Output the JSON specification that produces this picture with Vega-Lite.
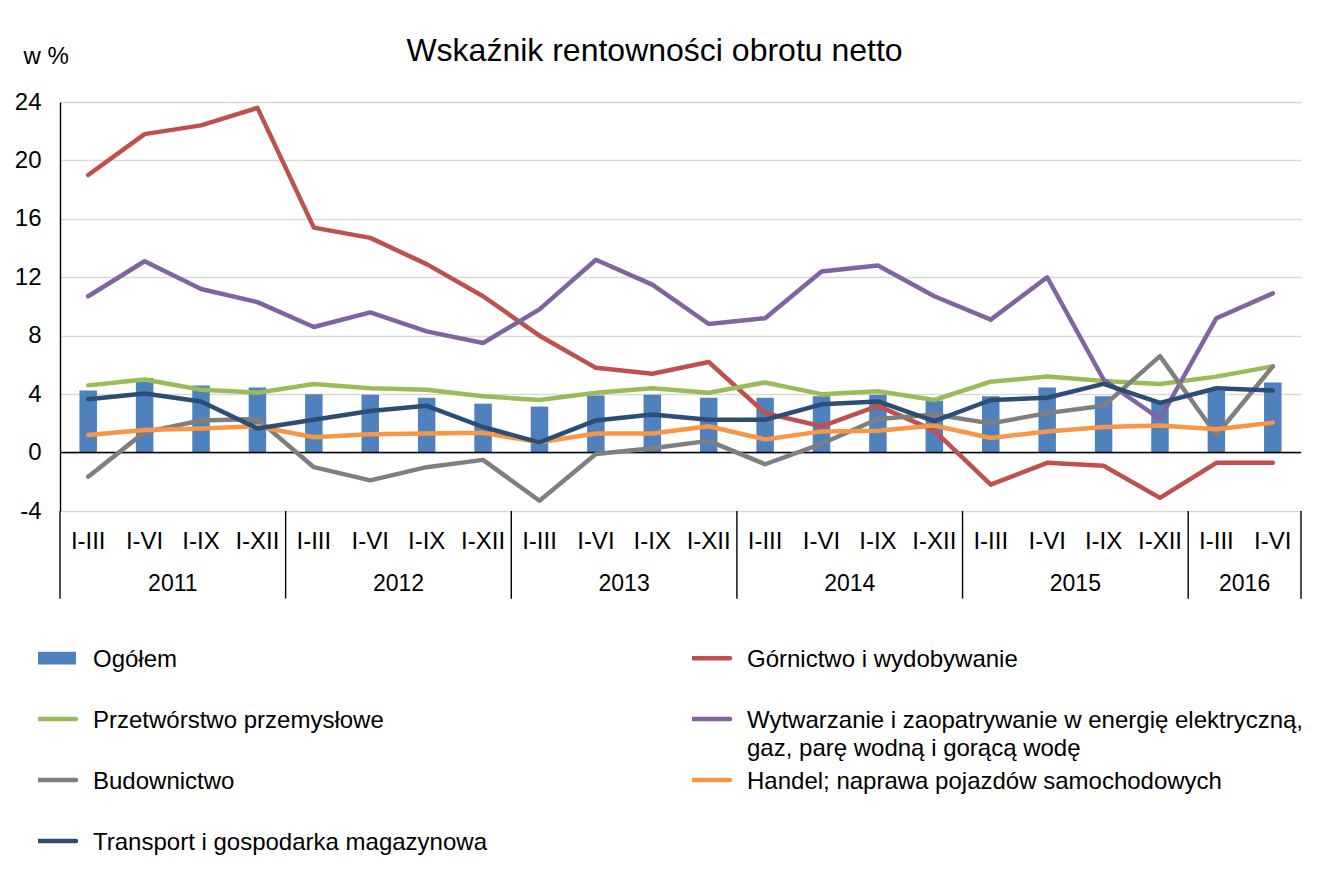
{
  "$schema": "https://vega.github.io/schema/vega-lite/v6.json",
  "width": 1241,
  "height": 409,
  "autosize": {"type": "none"},
  "padding": {"left": 60, "top": 102, "right": 25, "bottom": 370},
  "background": "white",
  "config": {
    "view": {"stroke": null},
    "font": "Liberation Sans",
    "text": {"font": "Liberation Sans"}
  },
  "title": {
    "text": "Wskaźnik rentowności obrotu netto",
    "font": "Liberation Sans",
    "fontSize": 32,
    "fontWeight": "normal",
    "color": "#000000",
    "anchor": "middle",
    "dx": -26,
    "offset": -49,
    "baseline": "alphabetic"
  },
  "datasets": {
    "main": [
      {"p": "2011 I-III", "s": "Ogółem", "v": 4.25},
      {"p": "2011 I-VI", "s": "Ogółem", "v": 5.1},
      {"p": "2011 I-IX", "s": "Ogółem", "v": 4.6},
      {"p": "2011 I-XII", "s": "Ogółem", "v": 4.45},
      {"p": "2012 I-III", "s": "Ogółem", "v": 4.0},
      {"p": "2012 I-VI", "s": "Ogółem", "v": 3.95},
      {"p": "2012 I-IX", "s": "Ogółem", "v": 3.75},
      {"p": "2012 I-XII", "s": "Ogółem", "v": 3.35},
      {"p": "2013 I-III", "s": "Ogółem", "v": 3.15},
      {"p": "2013 I-VI", "s": "Ogółem", "v": 3.9},
      {"p": "2013 I-IX", "s": "Ogółem", "v": 3.95},
      {"p": "2013 I-XII", "s": "Ogółem", "v": 3.75},
      {"p": "2014 I-III", "s": "Ogółem", "v": 3.75},
      {"p": "2014 I-VI", "s": "Ogółem", "v": 3.85},
      {"p": "2014 I-IX", "s": "Ogółem", "v": 3.95},
      {"p": "2014 I-XII", "s": "Ogółem", "v": 3.55},
      {"p": "2015 I-III", "s": "Ogółem", "v": 3.85},
      {"p": "2015 I-VI", "s": "Ogółem", "v": 4.45},
      {"p": "2015 I-IX", "s": "Ogółem", "v": 3.85},
      {"p": "2015 I-XII", "s": "Ogółem", "v": 3.5},
      {"p": "2016 I-III", "s": "Ogółem", "v": 4.25},
      {"p": "2016 I-VI", "s": "Ogółem", "v": 4.8},

      {"p": "2011 I-III", "s": "Górnictwo i wydobywanie", "v": 19.0},
      {"p": "2011 I-VI", "s": "Górnictwo i wydobywanie", "v": 21.8},
      {"p": "2011 I-IX", "s": "Górnictwo i wydobywanie", "v": 22.4},
      {"p": "2011 I-XII", "s": "Górnictwo i wydobywanie", "v": 23.6},
      {"p": "2012 I-III", "s": "Górnictwo i wydobywanie", "v": 15.4},
      {"p": "2012 I-VI", "s": "Górnictwo i wydobywanie", "v": 14.7},
      {"p": "2012 I-IX", "s": "Górnictwo i wydobywanie", "v": 12.9},
      {"p": "2012 I-XII", "s": "Górnictwo i wydobywanie", "v": 10.7},
      {"p": "2013 I-III", "s": "Górnictwo i wydobywanie", "v": 8.0},
      {"p": "2013 I-VI", "s": "Górnictwo i wydobywanie", "v": 5.8},
      {"p": "2013 I-IX", "s": "Górnictwo i wydobywanie", "v": 5.4},
      {"p": "2013 I-XII", "s": "Górnictwo i wydobywanie", "v": 6.2},
      {"p": "2014 I-III", "s": "Górnictwo i wydobywanie", "v": 2.7},
      {"p": "2014 I-VI", "s": "Górnictwo i wydobywanie", "v": 1.8},
      {"p": "2014 I-IX", "s": "Górnictwo i wydobywanie", "v": 3.2},
      {"p": "2014 I-XII", "s": "Górnictwo i wydobywanie", "v": 1.5},
      {"p": "2015 I-III", "s": "Górnictwo i wydobywanie", "v": -2.2},
      {"p": "2015 I-VI", "s": "Górnictwo i wydobywanie", "v": -0.7},
      {"p": "2015 I-IX", "s": "Górnictwo i wydobywanie", "v": -0.9},
      {"p": "2015 I-XII", "s": "Górnictwo i wydobywanie", "v": -3.1},
      {"p": "2016 I-III", "s": "Górnictwo i wydobywanie", "v": -0.7},
      {"p": "2016 I-VI", "s": "Górnictwo i wydobywanie", "v": -0.7},

      {"p": "2011 I-III", "s": "Przetwórstwo przemysłowe", "v": 4.6},
      {"p": "2011 I-VI", "s": "Przetwórstwo przemysłowe", "v": 5.0},
      {"p": "2011 I-IX", "s": "Przetwórstwo przemysłowe", "v": 4.3},
      {"p": "2011 I-XII", "s": "Przetwórstwo przemysłowe", "v": 4.1},
      {"p": "2012 I-III", "s": "Przetwórstwo przemysłowe", "v": 4.7},
      {"p": "2012 I-VI", "s": "Przetwórstwo przemysłowe", "v": 4.4},
      {"p": "2012 I-IX", "s": "Przetwórstwo przemysłowe", "v": 4.3},
      {"p": "2012 I-XII", "s": "Przetwórstwo przemysłowe", "v": 3.85},
      {"p": "2013 I-III", "s": "Przetwórstwo przemysłowe", "v": 3.6},
      {"p": "2013 I-VI", "s": "Przetwórstwo przemysłowe", "v": 4.1},
      {"p": "2013 I-IX", "s": "Przetwórstwo przemysłowe", "v": 4.4},
      {"p": "2013 I-XII", "s": "Przetwórstwo przemysłowe", "v": 4.1},
      {"p": "2014 I-III", "s": "Przetwórstwo przemysłowe", "v": 4.8},
      {"p": "2014 I-VI", "s": "Przetwórstwo przemysłowe", "v": 4.0},
      {"p": "2014 I-IX", "s": "Przetwórstwo przemysłowe", "v": 4.2},
      {"p": "2014 I-XII", "s": "Przetwórstwo przemysłowe", "v": 3.6},
      {"p": "2015 I-III", "s": "Przetwórstwo przemysłowe", "v": 4.85},
      {"p": "2015 I-VI", "s": "Przetwórstwo przemysłowe", "v": 5.2},
      {"p": "2015 I-IX", "s": "Przetwórstwo przemysłowe", "v": 4.9},
      {"p": "2015 I-XII", "s": "Przetwórstwo przemysłowe", "v": 4.7},
      {"p": "2016 I-III", "s": "Przetwórstwo przemysłowe", "v": 5.2},
      {"p": "2016 I-VI", "s": "Przetwórstwo przemysłowe", "v": 5.9},

      {"p": "2011 I-III", "s": "Wytwarzanie i zaopatrywanie w energię elektryczną, gaz, parę wodną i gorącą wodę", "v": 10.7},
      {"p": "2011 I-VI", "s": "Wytwarzanie i zaopatrywanie w energię elektryczną, gaz, parę wodną i gorącą wodę", "v": 13.1},
      {"p": "2011 I-IX", "s": "Wytwarzanie i zaopatrywanie w energię elektryczną, gaz, parę wodną i gorącą wodę", "v": 11.2},
      {"p": "2011 I-XII", "s": "Wytwarzanie i zaopatrywanie w energię elektryczną, gaz, parę wodną i gorącą wodę", "v": 10.3},
      {"p": "2012 I-III", "s": "Wytwarzanie i zaopatrywanie w energię elektryczną, gaz, parę wodną i gorącą wodę", "v": 8.6},
      {"p": "2012 I-VI", "s": "Wytwarzanie i zaopatrywanie w energię elektryczną, gaz, parę wodną i gorącą wodę", "v": 9.6},
      {"p": "2012 I-IX", "s": "Wytwarzanie i zaopatrywanie w energię elektryczną, gaz, parę wodną i gorącą wodę", "v": 8.3},
      {"p": "2012 I-XII", "s": "Wytwarzanie i zaopatrywanie w energię elektryczną, gaz, parę wodną i gorącą wodę", "v": 7.5},
      {"p": "2013 I-III", "s": "Wytwarzanie i zaopatrywanie w energię elektryczną, gaz, parę wodną i gorącą wodę", "v": 9.8},
      {"p": "2013 I-VI", "s": "Wytwarzanie i zaopatrywanie w energię elektryczną, gaz, parę wodną i gorącą wodę", "v": 13.2},
      {"p": "2013 I-IX", "s": "Wytwarzanie i zaopatrywanie w energię elektryczną, gaz, parę wodną i gorącą wodę", "v": 11.5},
      {"p": "2013 I-XII", "s": "Wytwarzanie i zaopatrywanie w energię elektryczną, gaz, parę wodną i gorącą wodę", "v": 8.8},
      {"p": "2014 I-III", "s": "Wytwarzanie i zaopatrywanie w energię elektryczną, gaz, parę wodną i gorącą wodę", "v": 9.2},
      {"p": "2014 I-VI", "s": "Wytwarzanie i zaopatrywanie w energię elektryczną, gaz, parę wodną i gorącą wodę", "v": 12.4},
      {"p": "2014 I-IX", "s": "Wytwarzanie i zaopatrywanie w energię elektryczną, gaz, parę wodną i gorącą wodę", "v": 12.8},
      {"p": "2014 I-XII", "s": "Wytwarzanie i zaopatrywanie w energię elektryczną, gaz, parę wodną i gorącą wodę", "v": 10.7},
      {"p": "2015 I-III", "s": "Wytwarzanie i zaopatrywanie w energię elektryczną, gaz, parę wodną i gorącą wodę", "v": 9.1},
      {"p": "2015 I-VI", "s": "Wytwarzanie i zaopatrywanie w energię elektryczną, gaz, parę wodną i gorącą wodę", "v": 12.0},
      {"p": "2015 I-IX", "s": "Wytwarzanie i zaopatrywanie w energię elektryczną, gaz, parę wodną i gorącą wodę", "v": 5.0},
      {"p": "2015 I-XII", "s": "Wytwarzanie i zaopatrywanie w energię elektryczną, gaz, parę wodną i gorącą wodę", "v": 2.3},
      {"p": "2016 I-III", "s": "Wytwarzanie i zaopatrywanie w energię elektryczną, gaz, parę wodną i gorącą wodę", "v": 9.2},
      {"p": "2016 I-VI", "s": "Wytwarzanie i zaopatrywanie w energię elektryczną, gaz, parę wodną i gorącą wodę", "v": 10.9},

      {"p": "2011 I-III", "s": "Budownictwo", "v": -1.65},
      {"p": "2011 I-VI", "s": "Budownictwo", "v": 1.4},
      {"p": "2011 I-IX", "s": "Budownictwo", "v": 2.2},
      {"p": "2011 I-XII", "s": "Budownictwo", "v": 2.3},
      {"p": "2012 I-III", "s": "Budownictwo", "v": -1.0},
      {"p": "2012 I-VI", "s": "Budownictwo", "v": -1.9},
      {"p": "2012 I-IX", "s": "Budownictwo", "v": -1.0},
      {"p": "2012 I-XII", "s": "Budownictwo", "v": -0.5},
      {"p": "2013 I-III", "s": "Budownictwo", "v": -3.3},
      {"p": "2013 I-VI", "s": "Budownictwo", "v": -0.1},
      {"p": "2013 I-IX", "s": "Budownictwo", "v": 0.3},
      {"p": "2013 I-XII", "s": "Budownictwo", "v": 0.8},
      {"p": "2014 I-III", "s": "Budownictwo", "v": -0.8},
      {"p": "2014 I-VI", "s": "Budownictwo", "v": 0.6},
      {"p": "2014 I-IX", "s": "Budownictwo", "v": 2.3},
      {"p": "2014 I-XII", "s": "Budownictwo", "v": 2.6},
      {"p": "2015 I-III", "s": "Budownictwo", "v": 2.0},
      {"p": "2015 I-VI", "s": "Budownictwo", "v": 2.7},
      {"p": "2015 I-IX", "s": "Budownictwo", "v": 3.2},
      {"p": "2015 I-XII", "s": "Budownictwo", "v": 6.6},
      {"p": "2016 I-III", "s": "Budownictwo", "v": 1.2},
      {"p": "2016 I-VI", "s": "Budownictwo", "v": 5.9},

      {"p": "2011 I-III", "s": "Handel; naprawa pojazdów samochodowych", "v": 1.2},
      {"p": "2011 I-VI", "s": "Handel; naprawa pojazdów samochodowych", "v": 1.55},
      {"p": "2011 I-IX", "s": "Handel; naprawa pojazdów samochodowych", "v": 1.65},
      {"p": "2011 I-XII", "s": "Handel; naprawa pojazdów samochodowych", "v": 1.8},
      {"p": "2012 I-III", "s": "Handel; naprawa pojazdów samochodowych", "v": 1.05},
      {"p": "2012 I-VI", "s": "Handel; naprawa pojazdów samochodowych", "v": 1.25},
      {"p": "2012 I-IX", "s": "Handel; naprawa pojazdów samochodowych", "v": 1.3},
      {"p": "2012 I-XII", "s": "Handel; naprawa pojazdów samochodowych", "v": 1.35},
      {"p": "2013 I-III", "s": "Handel; naprawa pojazdów samochodowych", "v": 0.7},
      {"p": "2013 I-VI", "s": "Handel; naprawa pojazdów samochodowych", "v": 1.3},
      {"p": "2013 I-IX", "s": "Handel; naprawa pojazdów samochodowych", "v": 1.3},
      {"p": "2013 I-XII", "s": "Handel; naprawa pojazdów samochodowych", "v": 1.8},
      {"p": "2014 I-III", "s": "Handel; naprawa pojazdów samochodowych", "v": 0.9},
      {"p": "2014 I-VI", "s": "Handel; naprawa pojazdów samochodowych", "v": 1.45},
      {"p": "2014 I-IX", "s": "Handel; naprawa pojazdów samochodowych", "v": 1.5},
      {"p": "2014 I-XII", "s": "Handel; naprawa pojazdów samochodowych", "v": 1.85},
      {"p": "2015 I-III", "s": "Handel; naprawa pojazdów samochodowych", "v": 1.0},
      {"p": "2015 I-VI", "s": "Handel; naprawa pojazdów samochodowych", "v": 1.45},
      {"p": "2015 I-IX", "s": "Handel; naprawa pojazdów samochodowych", "v": 1.75},
      {"p": "2015 I-XII", "s": "Handel; naprawa pojazdów samochodowych", "v": 1.85},
      {"p": "2016 I-III", "s": "Handel; naprawa pojazdów samochodowych", "v": 1.6},
      {"p": "2016 I-VI", "s": "Handel; naprawa pojazdów samochodowych", "v": 2.05},

      {"p": "2011 I-III", "s": "Transport i gospodarka magazynowa", "v": 3.65},
      {"p": "2011 I-VI", "s": "Transport i gospodarka magazynowa", "v": 4.05},
      {"p": "2011 I-IX", "s": "Transport i gospodarka magazynowa", "v": 3.5},
      {"p": "2011 I-XII", "s": "Transport i gospodarka magazynowa", "v": 1.65},
      {"p": "2012 I-III", "s": "Transport i gospodarka magazynowa", "v": 2.25},
      {"p": "2012 I-VI", "s": "Transport i gospodarka magazynowa", "v": 2.85},
      {"p": "2012 I-IX", "s": "Transport i gospodarka magazynowa", "v": 3.2},
      {"p": "2012 I-XII", "s": "Transport i gospodarka magazynowa", "v": 1.75},
      {"p": "2013 I-III", "s": "Transport i gospodarka magazynowa", "v": 0.7},
      {"p": "2013 I-VI", "s": "Transport i gospodarka magazynowa", "v": 2.2},
      {"p": "2013 I-IX", "s": "Transport i gospodarka magazynowa", "v": 2.6},
      {"p": "2013 I-XII", "s": "Transport i gospodarka magazynowa", "v": 2.25},
      {"p": "2014 I-III", "s": "Transport i gospodarka magazynowa", "v": 2.25},
      {"p": "2014 I-VI", "s": "Transport i gospodarka magazynowa", "v": 3.3},
      {"p": "2014 I-IX", "s": "Transport i gospodarka magazynowa", "v": 3.5},
      {"p": "2014 I-XII", "s": "Transport i gospodarka magazynowa", "v": 2.15},
      {"p": "2015 I-III", "s": "Transport i gospodarka magazynowa", "v": 3.6},
      {"p": "2015 I-VI", "s": "Transport i gospodarka magazynowa", "v": 3.75},
      {"p": "2015 I-IX", "s": "Transport i gospodarka magazynowa", "v": 4.7},
      {"p": "2015 I-XII", "s": "Transport i gospodarka magazynowa", "v": 3.4},
      {"p": "2016 I-III", "s": "Transport i gospodarka magazynowa", "v": 4.4},
      {"p": "2016 I-VI", "s": "Transport i gospodarka magazynowa", "v": 4.25}
    ],
    "years": [
      {"year": "2011", "start": "2011 I-III", "mid": "2011 I-VI"},
      {"year": "2012", "start": "2012 I-III", "mid": "2012 I-VI"},
      {"year": "2013", "start": "2013 I-III", "mid": "2013 I-VI"},
      {"year": "2014", "start": "2014 I-III", "mid": "2014 I-VI"},
      {"year": "2015", "start": "2015 I-III", "mid": "2015 I-VI"},
      {"year": "2016", "start": "2016 I-III", "mid": "2016 I-III"}
    ],
    "ends": [
      {"end": "2016 I-VI"}
    ]
  },
  "layer": [
    {
      "data": {"name": "main"},
      "transform": [{"filter": "datum.s === 'Ogółem'"}],
      "mark": {"type": "bar", "width": {"band": 0.31}},
      "encoding": {
        "x": {
          "field": "p",
          "type": "nominal",
          "scale": {
            "domain": ["2011 I-III", "2011 I-VI", "2011 I-IX", "2011 I-XII", "2012 I-III", "2012 I-VI", "2012 I-IX", "2012 I-XII", "2013 I-III", "2013 I-VI", "2013 I-IX", "2013 I-XII", "2014 I-III", "2014 I-VI", "2014 I-IX", "2014 I-XII", "2015 I-III", "2015 I-VI", "2015 I-IX", "2015 I-XII", "2016 I-III", "2016 I-VI"],
            "paddingInner": 0,
            "paddingOuter": 0
          },
          "axis": {
            "title": null,
            "labelExpr": "split(datum.label, ' ')[1]",
            "labelAngle": 0,
            "labelFont": "Liberation Sans",
            "labelFontSize": 24,
            "labelColor": "#000000",
            "labelPadding": 18.5,
            "labelBaseline": "top",
            "ticks": false,
            "tickSize": 0,
            "domain": false,
            "grid": false
          }
        },
        "y": {
          "field": "v",
          "type": "quantitative",
          "scale": {"domain": [-4, 24], "nice": false, "zero": false},
          "axis": {
            "values": [-4, -2, 0, 2, 4, 6, 8, 10, 12, 14, 16, 18, 20, 22, 24],
            "labelExpr": "replace(datum.label, '−', '-')",
            "grid": true,
            "gridColor": "#D9D9D9",
            "gridWidth": 1.4,
            "domain": true,
            "domainColor": "#000000",
            "domainWidth": 1.4,
            "ticks": false,
            "tickSize": 0,
            "labelPadding": 19,
            "labelFont": "Liberation Sans",
            "labelFontSize": 24,
            "labelColor": "#000000",
            "title": "w %",
            "titleAngle": 0,
            "titleAlign": "left",
            "titleBaseline": "alphabetic",
            "titleX": -37,
            "titleY": -39,
            "titleFont": "Liberation Sans",
            "titleFontSize": 24,
            "titleFontWeight": "normal",
            "titleColor": "#000000"
          }
        },
        "color": {
          "field": "s",
          "type": "nominal",
          "scale": {
            "domain": ["Ogółem", "Przetwórstwo przemysłowe", "Budownictwo", "Transport i gospodarka magazynowa", "Górnictwo i wydobywanie", "Wytwarzanie i zaopatrywanie w energię elektryczną, gaz, parę wodną i gorącą wodę", "Handel; naprawa pojazdów samochodowych"],
            "range": ["#4F81BD", "#9BBB59", "#7F7F7F", "#2C4D75", "#C0504D", "#8064A2", "#F79646"]
          },
          "legend": {
            "title": null,
            "orient": "none",
            "legendX": -22,
            "legendY": 537,
            "columns": 2,
            "columnPadding": 205,
            "rowPadding": 0,
            "clipHeight": 38,
            "padding": 0,
            "symbolType": "stroke",
            "symbolSize": 2704,
            "symbolStrokeWidth": 4.5,
            "labelFont": "Liberation Sans",
            "labelFontSize": 24,
            "labelColor": "#000000",
            "labelOffset": 31,
            "labelLimit": 800,
            "labelBaseline": "top",
            "labelExpr": "datum.label === 'Wytwarzanie i zaopatrywanie w energię elektryczną, gaz, parę wodną i gorącą wodę' ? ['Wytwarzanie i zaopatrywanie w energię elektryczną,', 'gaz, parę wodną i gorącą wodę'] : [datum.label, ' ']",
            "encode": {
              "symbols": {
                "update": {
                  "shape": {"signal": "datum.value === 'Ogółem' ? 'M-1,-0.245H1V0.245H-1Z' : 'stroke'"},
                  "strokeWidth": {"signal": "datum.value === 'Ogółem' ? 0 : 4.5"},
                  "fill": {"scale": "color", "field": "value"},
                  "stroke": {"scale": "color", "field": "value"},
                  "strokeCap": {"value": "round"},
                  "opacity": {"value": 1}
                }
              },
              "labels": {
                "update": {
                  "dy": {"value": -10.3},
                  "lineHeight": {"value": 28}
                }
              }
            }
          }
        }
      }
    },
    {
      "data": {"values": [{"zero": 0}]},
      "mark": {"type": "rule", "color": "#000000", "strokeWidth": 1.4},
      "encoding": {
        "y": {"field": "zero", "type": "quantitative"}
      }
    },
    {
      "data": {"name": "main"},
      "transform": [{"filter": "datum.s !== 'Ogółem'"}],
      "mark": {"type": "line", "strokeWidth": 4.5, "strokeCap": "round", "strokeJoin": "round"},
      "encoding": {
        "x": {"field": "p", "type": "nominal", "title": null},
        "y": {"field": "v", "type": "quantitative"},
        "color": {"field": "s", "type": "nominal"}
      }
    },
    {
      "data": {"name": "years"},
      "mark": {"type": "rule", "color": "#000000", "strokeWidth": 1.4, "clip": false},
      "encoding": {
        "x": {"field": "start", "type": "nominal", "bandPosition": 0, "title": null},
        "y": {"datum": -4, "type": "quantitative"},
        "y2": {"datum": -10}
      }
    },
    {
      "data": {"name": "ends"},
      "mark": {"type": "rule", "color": "#000000", "strokeWidth": 1.4, "clip": false},
      "encoding": {
        "x": {"field": "end", "type": "nominal", "bandPosition": 1, "title": null},
        "y": {"datum": -4, "type": "quantitative"},
        "y2": {"datum": -10}
      }
    },
    {
      "data": {"name": "years"},
      "mark": {"type": "text", "font": "Liberation Sans", "fontSize": 23, "color": "#000000", "baseline": "middle", "align": "center", "clip": false},
      "encoding": {
        "x": {"field": "mid", "type": "nominal", "bandPosition": 1, "title": null},
        "y": {"datum": -9, "type": "quantitative"},
        "text": {"field": "year"}
      }
    }
  ]
}
